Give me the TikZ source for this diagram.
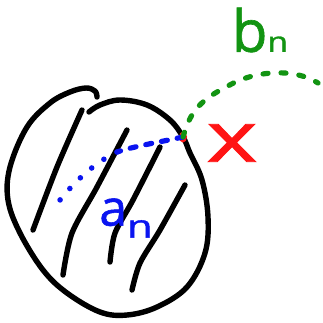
\documentclass[tikz,border=0pt]{standalone}
\usepackage{fontspec}
\newfontfamily\hand{Open Sans}[FakeBold=1.1]
\usetikzlibrary{shapes.geometric}
\definecolor{ink}{HTML}{000000}
\definecolor{pen}{HTML}{0A14F0}
\definecolor{hot}{HTML}{FF1414}
\definecolor{leaf}{HTML}{129412}

\begin{document}
\begin{tikzpicture}[
  x=1pt,y=-1pt,
  stroke/.style={draw=ink,line width=5.4pt,line cap=round,line join=round},
  dashb/.style={draw=pen,line width=5.2pt,line cap=round,dash pattern=on 6pt off 10pt},
  dotb/.style={draw=pen,line width=5.6pt,line cap=round,dash pattern=on 0pt off 15pt},
  dashg/.style={draw=leaf,line width=5.2pt,line cap=round,dash pattern=on 5pt off 13pt},
  lbl/.style={font=\hand,inner sep=0pt},
]
\useasboundingbox (0,0) rectangle (323,322);

%--------------------------------------------------------------- outline ---
\draw[stroke] plot[smooth,tension=0.6] coordinates {
  (89,112) (100,105) (120,100) (147,105) (170,120) (183,137) (190,153)
  (202,180) (208,217) (205,253) (187,287) (157,307) (127,315) (100,312)
  (67,293) (43,270) (20,233) (8,200) (10,167) (27,127) (50,103) (70,92)
  (86,88) (95,91) (97,97)};

%--------------------------------------------------------------- hatching ---
\draw[stroke] plot[smooth] coordinates {(82,110) (57,167) (33,230)};
\draw[stroke] plot[smooth] coordinates {(127,130) (97,187) (72,233) (63,275)};
\draw[stroke] plot[smooth] coordinates {(160,147) (133,200) (115,233) (110,262)};
\draw[stroke] plot[smooth] coordinates {(185,185) (160,230) (140,263) (132,290)};

%--------------------------------------------------------------- point x ---
\coordinate (amid) at (117,152);
\coordinate (aend) at (60,200);
\coordinate (bend) at (318,83);
\node[fill=hot,ellipse,minimum width=8pt,minimum height=11pt,inner sep=0pt] (pt) at (183,137) {};

%----------------------------------------------------------------- a_n ---
\draw[dashb] (pt.center) .. controls (160,142) and (135,146) .. (amid);
\draw[dotb] (amid) .. controls (100,160) and (80,175) .. (aend);

%----------------------------------------------------------------- b_n ---
\draw[dashg] (pt.center) .. controls (190,112) and (200,100) .. (228,86)
  .. controls (255,70) and (295,68) .. (bend);

%---------------------------------------------------------------- labels ---
\node[lbl,text=hot] (xl) at (232,143) {\scalebox{1.4}[1]{\fontsize{70}{70}\selectfont x}};
\node[lbl,text=leaf] (bl) at (260,30)
  {\fontsize{58}{58}\selectfont b\scalebox{1.2}[1]{\fontsize{28}{28}\selectfont n}};
\node[lbl,text=pen] (al) at (126,218)
  {\fontsize{50}{50}\selectfont a\raisebox{-12pt}{\scalebox{1.3}[1]{\fontsize{32}{32}\selectfont n}}};
\end{tikzpicture}
\end{document}
